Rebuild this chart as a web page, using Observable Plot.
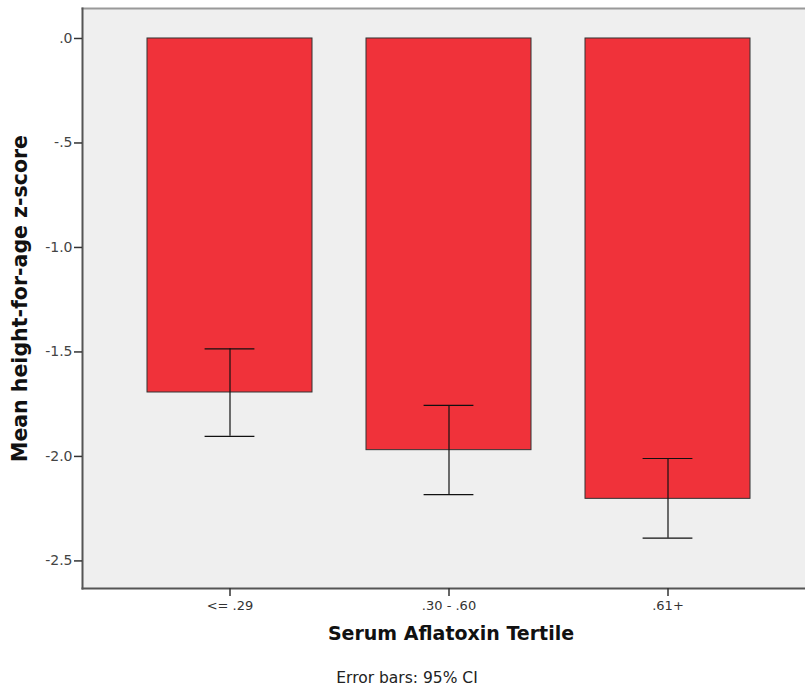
<!DOCTYPE html>
<html>
<head>
<meta charset="utf-8">
<script src="https://cdn.jsdelivr.net/npm/d3@7"></script>
<script src="https://cdn.jsdelivr.net/npm/@observablehq/plot@0.6"></script>
<style>
  html, body { margin: 0; padding: 0; background: #fff; }
  #chart svg { overflow: hidden; }
</style>
</head>
<body>
<div id="chart"></div>
<script>
const categories = ["<= .29", ".30 - .60", ".61+"];
const means = [-1.694, -1.970, -2.203];
const ciLow = [-1.904, -2.183, -2.391];
const ciHigh = [-1.485, -1.756, -2.010];
const yTicks = [0, -0.5, -1.0, -1.5, -2.0, -2.5];
const yTickLabels = [".0", "-.5", "-1.0", "-1.5", "-2.0", "-2.5"];
const xTitle = "Serum Aflatoxin Tertile";
const yTitle = "Mean height-for-age z-score";
const caption = "Error bars: 95% CI";

const data = categories.map((c, i) => ({cat: c, mean: means[i], lo: ciLow[i], hi: ciHigh[i]}));
const font = "'DejaVu Sans', Verdana, sans-serif";

const chart = Plot.plot({
  width: 805,
  height: 690,
  marginLeft: 82,
  marginRight: 0,
  marginTop: 8,
  marginBottom: 102,
  style: {fontFamily: font, background: "#fff"},
  x: {domain: categories, range: [82, 815], paddingInner: 0.248, paddingOuter: 0.291},
  y: {domain: [-2.632, 0.1435], range: [588, 8]},
  marks: [
    Plot.frame({fill: "#efefef", stroke: null}),
    Plot.barY(data, {x: "cat", y1: 0, y2: "mean", fill: "#f0323a", stroke: "#333", strokeWidth: 1}),
    Plot.ruleX(data, {x: "cat", y1: "lo", y2: "hi", stroke: "#111", strokeWidth: 1.2}),
    Plot.tickY(data, {x: "cat", y: "lo", stroke: "#111", strokeWidth: 1.2, insetLeft: 57.6, insetRight: 57.6}),
    Plot.tickY(data, {x: "cat", y: "hi", stroke: "#111", strokeWidth: 1.2, insetLeft: 57.6, insetRight: 57.6}),
    Plot.frame({anchor: "top", stroke: "#999", strokeWidth: 2}),
    Plot.frame({anchor: "left", stroke: "#555", strokeWidth: 2}),
    Plot.frame({anchor: "bottom", stroke: "#555", strokeWidth: 2}),
    Plot.axisY({ticks: yTicks, tickFormat: () => "", tickSize: 8, stroke: "#333", strokeWidth: 1.5, label: null}),
    Plot.text(yTicks, {y: (d) => d, text: (d, i) => yTickLabels[i], frameAnchor: "left", dx: -10, textAnchor: "end", fontSize: 14, fill: "#444"}),
    Plot.axisX({tickSize: 8, tickFormat: () => "", stroke: "#333", strokeWidth: 1.5, label: null}),
    Plot.text(categories, {x: (d) => d, text: (d) => d, frameAnchor: "bottom", dy: 21, fontSize: 13, fill: "#333"}),
    Plot.text([xTitle], {frameAnchor: "bottom", dx: 7, dy: 51, fontSize: 19, fontWeight: "bold", fill: "#111"}),
    Plot.text([caption], {frameAnchor: "bottom", dx: -37, dy: 94, fontSize: 15.5, fill: "#222"}),
    Plot.text([yTitle], {frameAnchor: "left", dx: -62, dy: 0, textAnchor: "middle", rotate: -90, fontSize: 20.5, fontWeight: "bold", fill: "#111"})
  ]
});
document.getElementById("chart").appendChild(chart);
</script>
</body>
</html>
